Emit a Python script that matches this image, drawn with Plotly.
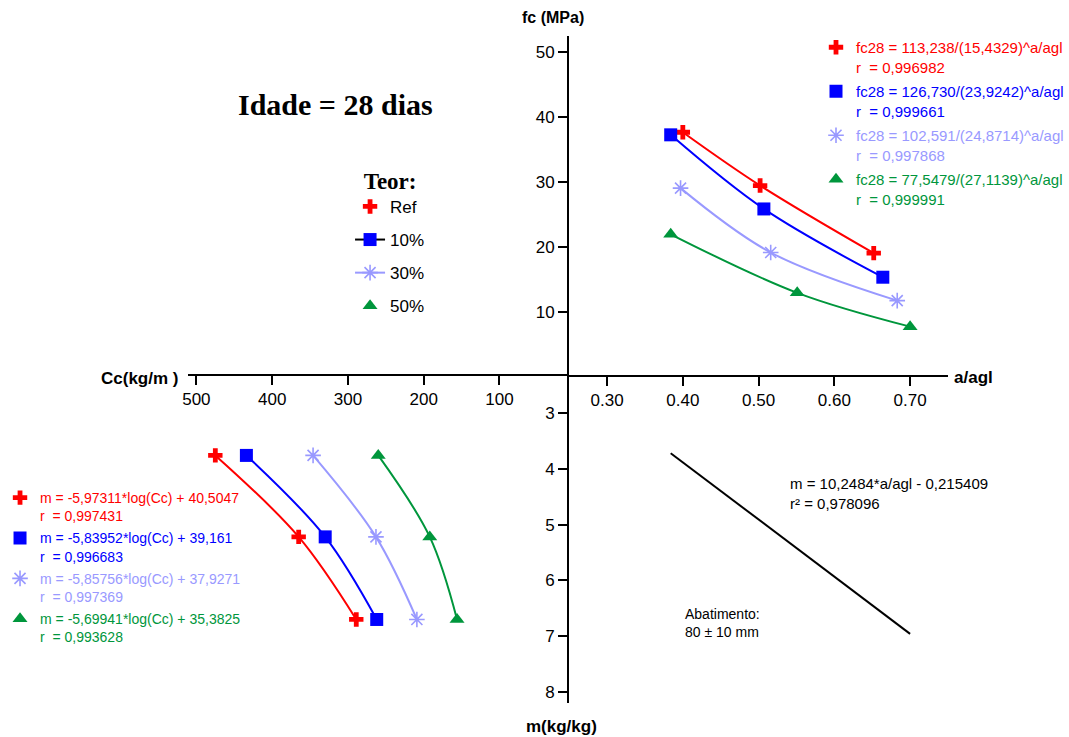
import plotly.graph_objects as go

W, H = 1069, 737

# ---- Upper right: compressive strength vs water/binder ratio (28 days) ----
ref_a = [0.400, 0.502, 0.652]
ref_fc = [37.6, 29.4, 19.0]
t10_a = [0.384, 0.507, 0.664]
t10_fc = [37.2, 25.8, 15.3]
t30_a = [0.397, 0.516, 0.683]
t30_fc = [29.0, 19.1, 11.7]
t50_a = [0.384, 0.551, 0.700]
t50_fc = [21.9, 12.9, 7.7]

# ---- Lower left: binder content vs dry aggregate/binder ratio m ----
m_vals = [3.76, 5.22, 6.70]
ref_cc = [475, 365, 289]
t10_cc = [434, 330, 262]
t30_cc = [346, 263, 209]
t50_cc = [260, 192, 156]

# ---- Lower right: m vs a/agl regression (m = slope*a/agl + intercept) ----
m_slope = 10.2484
m_intercept = -0.215409

# ---- Labels ----
names = ["Ref", "10%", "30%", "50%"]
fc_eq = ["fc28 = 113,238/(15,4329)^a/agl", "fc28 = 126,730/(23,9242)^a/agl",
         "fc28 = 102,591/(24,8714)^a/agl", "fc28 = 77,5479/(27,1139)^a/agl"]
fc_r = ["0,996982", "0,999661", "0,997868", "0,999991"]
m_eq = ["m = -5,97311*log(Cc) + 40,5047", "m = -5,83952*log(Cc) + 39,161",
        "m = -5,85756*log(Cc) + 37,9271", "m = -5,69941*log(Cc) + 35,3825"]
m_r = ["0,997431", "0,996683", "0,997369", "0,993628"]

a_ticks = [0.30, 0.40, 0.50, 0.60, 0.70]
a_ticktext = ["0.30", "0.40", "0.50", "0.60", "0.70"]
fc_ticks = [10, 20, 30, 40, 50]
cc_ticks = [100, 200, 300, 400, 500]
m_ticks = [3, 4, 5, 6, 7, 8]

# ---- Styles ----
colors = ["#FF0000", "#0000FF", "#9999FF", "#00963C"]
symbols = ["cross", "square", "asterisk-open", "triangle-up"]
sizes = [12, 13, 13, 13]
legend_line = [None, "black", "#9999FF", None]

SANS = "Liberation Sans, Arial, sans-serif"
SERIF = "Liberation Serif, Times New Roman, serif"

a_data = [ref_a, t10_a, t30_a, t50_a]
fc_data = [ref_fc, t10_fc, t30_fc, t50_fc]
cc_data = [ref_cc, t10_cc, t30_cc, t50_cc]


def marker(i):
    return dict(symbol=symbols[i], size=sizes[i], color=colors[i],
                line=dict(color=colors[i], width=1.6 if symbols[i] == "asterisk-open" else 0))


fig = go.Figure()

for i in range(4):
    # fc x a/agl
    fig.add_trace(go.Scatter(x=a_data[i], y=fc_data[i], mode="lines+markers",
                             line=dict(color=colors[i], width=2, shape="spline"),
                             marker=marker(i), xaxis="x", yaxis="y", showlegend=False,
                             cliponaxis=False))
    # m x Cc
    fig.add_trace(go.Scatter(x=cc_data[i], y=m_vals, mode="lines+markers",
                             line=dict(color=colors[i], width=2, shape="spline"),
                             marker=marker(i), xaxis="x2", yaxis="y2", showlegend=False,
                             cliponaxis=False))

# m x a/agl regression line over the a/agl span of the mixes
all_a = [v for s in a_data for v in s]
a_span = [min(all_a), max(all_a)]
fig.add_trace(go.Scatter(x=a_span, y=[m_slope * a + m_intercept for a in a_span],
                         mode="lines", line=dict(color="black", width=2),
                         xaxis="x", yaxis="y2", showlegend=False))

# Legend "Teor:"
for i in range(4):
    mode = "lines+markers" if legend_line[i] else "markers"
    fig.add_trace(go.Scatter(x=[None], y=[None], mode=mode, name=names[i],
                             marker=marker(i),
                             line=dict(color=legend_line[i] or colors[i], width=2),
                             legend="legend", legendgroup="teor%d" % i))

# Equation keys, fc x a/agl
for i in range(4):
    c = colors[i]
    txt = ("<span style='color:%s'>%s</span><br><span style='color:%s'>r  = %s</span>"
           % (c, fc_eq[i], c, fc_r[i]))
    fig.add_trace(go.Scatter(x=[None], y=[None], mode="markers", name=txt,
                             marker=marker(i), legend="legend2",
                             legendgroup="fc%d" % i))

# Equation keys, m x Cc
for i in range(4):
    c = colors[i]
    txt = ("<span style='color:%s'>%s</span><br><span style='color:%s'>r  = %s</span>"
           % (c, m_eq[i], c, m_r[i]))
    fig.add_trace(go.Scatter(x=[None], y=[None], mode="markers", name=txt,
                             marker=marker(i), legend="legend3",
                             legendgroup="m%d" % i))


def fx(p):
    return p / W


def fy(p):
    return 1 - p / H


axis_style = dict(showline=True, linecolor="black", linewidth=2, ticks="outside",
                  ticklen=9, tickwidth=2, tickcolor="black", showgrid=False,
                  zeroline=False, automargin=False, fixedrange=True,
                  tickfont=dict(family=SANS, size=17, color="black"))

legend_base = dict(xanchor="left", yanchor="top", bgcolor="rgba(0,0,0,0)",
                   borderwidth=0, traceorder="grouped")

fig.update_layout(
    width=W, height=H, autosize=False,
    margin=dict(l=0, r=0, t=0, b=0),
    paper_bgcolor="white", plot_bgcolor="white",
    xaxis=dict(domain=[fx(571), fx(953)], range=[0.25, 0.75], anchor="y",
               tickvals=a_ticks, ticktext=a_ticktext, **axis_style),
    yaxis=dict(domain=[fy(375), fy(36)], range=[0.26, 52.4], anchor="x",
               tickvals=fc_ticks, **axis_style),
    xaxis2=dict(domain=[fx(187), fx(571)], range=[510.5, 8.0], anchor="free",
                position=fy(375), side="bottom", tickvals=cc_ticks, **axis_style),
    yaxis2=dict(domain=[fy(703), fy(375)], range=[8.197, 2.319], anchor="x",
                tickvals=m_ticks, **axis_style),
    legend=dict(x=fx(350), y=fy(159), tracegroupgap=8,
                font=dict(family=SANS, size=17, color="black"),
                title=dict(text="<b>Teor:</b>", side="top center",
                           font=dict(family=SERIF, size=23, color="black")),
                **legend_base),
    legend2=dict(x=fx(820), y=fy(31), tracegroupgap=2, valign="top",
                 font=dict(family=SANS, size=15), **legend_base),
    legend3=dict(x=fx(-3), y=fy(482), tracegroupgap=1, valign="top",
                 font=dict(family=SANS, size=14), **legend_base),
)

annots = [
    dict(text="<b>Idade = 28 dias</b>", x=fx(335), y=fy(104),
         font=dict(family=SERIF, size=30, color="black")),
    dict(text="<b>fc (MPa)</b>", x=fx(555), y=fy(17),
         font=dict(family=SANS, size=16, color="black")),
    dict(text="<b>a/agl</b>", x=fx(979), y=fy(377),
         font=dict(family=SANS, size=17, color="black")),
    dict(text="<b>Cc(kg/m )</b>", x=fx(138), y=fy(378),
         font=dict(family=SANS, size=17, color="black")),
    dict(text="<b>m(kg/kg)</b>", x=fx(563), y=fy(726),
         font=dict(family=SANS, size=17, color="black")),
    dict(text="m = 10,2484*a/agl - 0,215409<br>r² = 0,978096", x=fx(792), y=fy(473),
         xanchor="left", yanchor="top", align="left",
         font=dict(family=SANS, size=15, color="black")),
    dict(text="Abatimento:<br>80 ± 10 mm", x=fx(686), y=fy(604),
         xanchor="left", yanchor="top", align="left",
         font=dict(family=SANS, size=14, color="black")),
]
for a in annots:
    a.setdefault("xanchor", "center")
    a.setdefault("yanchor", "middle")
    fig.add_annotation(xref="paper", yref="paper", showarrow=False, **a)

fig.write_html("out.html")
